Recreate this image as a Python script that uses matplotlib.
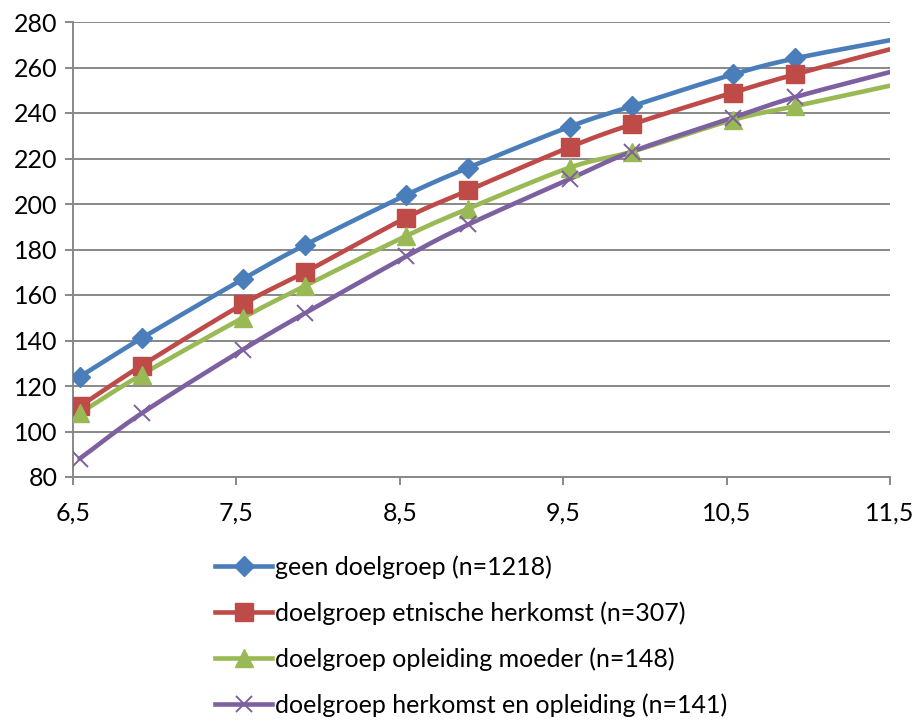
import numpy as np
import matplotlib.pyplot as plt
from matplotlib.ticker import FuncFormatter

# leeftijd (jaren) en waarden per groep
leeftijd = [6.54, 6.92, 7.54, 7.92, 8.54, 8.92, 9.54, 9.92, 10.54, 10.92, 11.5]

geen_doelgroep = [124, 141, 167, 182, 204, 216, 234, 243, 257, 264, 272]
etnische_herkomst = [111, 129, 156, 170, 194, 206, 225, 235, 249, 257, 268]
opleiding_moeder = [108, 125, 150, 164, 186, 198, 216, 223, 237, 243, 252]
herkomst_opleiding = [88, 108, 136, 152, 177, 191, 211, 223, 238, 247, 258]

labels = ["geen doelgroep (n=1218)",
          "doelgroep etnische herkomst (n=307)",
          "doelgroep opleiding moeder (n=148)",
          "doelgroep herkomst en opleiding (n=141)"]
kleuren = ["#4A7EBB", "#BE4B48", "#98B954", "#7D60A0"]
markers = ["D", "s", "^", "x"]
marker_sizes = [10.5, 13, 13, 12]

x_ticks = [6.5, 7.5, 8.5, 9.5, 10.5, 11.5]
y_ticks = list(range(80, 281, 20))

plt.rcParams['font.family'] = ['Lato', 'DejaVu Sans']


def smooth(xs, ys, n=20):
    # Catmull-Rom zoals de "vloeiende lijn" in Excel
    xs = np.asarray(xs, float)
    ys = np.asarray(ys, float)
    px = np.concatenate([[2 * xs[0] - xs[1]], xs, [2 * xs[-1] - xs[-2]]])
    py = np.concatenate([[2 * ys[0] - ys[1]], ys, [2 * ys[-1] - ys[-2]]])
    ox, oy = [], []
    t = np.linspace(0, 1, n, endpoint=False)
    for i in range(1, len(px) - 2):
        for p, out in ((px, ox), (py, oy)):
            p0, p1, p2, p3 = p[i - 1], p[i], p[i + 1], p[i + 2]
            out.extend(0.5 * (2 * p1 + (-p0 + p2) * t
                              + (2 * p0 - 5 * p1 + 4 * p2 - p3) * t ** 2
                              + (-p0 + 3 * p1 - 3 * p2 + p3) * t ** 3))
    ox.append(xs[-1])
    oy.append(ys[-1])
    return ox, oy


fig = plt.figure(figsize=(9.16, 7.24), dpi=100)
ax = fig.add_axes([73 / 916, 1 - 477 / 724, (890 - 73) / 916, (477 - 22) / 724])

reeksen = [geen_doelgroep, etnische_herkomst, opleiding_moeder, herkomst_opleiding]
handles = []
for waarden, kleur, m, ms, lab in zip(reeksen, kleuren, markers, marker_sizes, labels):
    sx, sy = smooth(leeftijd, waarden)
    ax.plot(sx, sy, color=kleur, lw=3.3, solid_capstyle='round', zorder=3)
    mew = 1.4 if m == "x" else 1
    ax.plot(leeftijd[:-1], waarden[:-1], linestyle='none', marker=m, ms=ms,
            color=kleur, mec=kleur, mew=mew, zorder=4)
    h, = ax.plot([], [], color=kleur, lw=3.3, marker=m, ms=ms, mec=kleur, mew=mew)
    handles.append(h)

ax.set_xlim(6.5, 11.5)
ax.set_ylim(80, 280)
ax.set_xticks(x_ticks)
ax.set_yticks(y_ticks)
ax.xaxis.set_major_formatter(FuncFormatter(lambda v, p: f"{v:.1f}".replace(".", ",")))
ax.grid(axis='y', color='#888888', lw=1.4)
ax.set_axisbelow(True)
for s in ['top', 'right']:
    ax.spines[s].set_visible(False)
for s in ['left', 'bottom']:
    ax.spines[s].set_color('#888888')
    ax.spines[s].set_linewidth(1.4)
ax.tick_params(axis='both', colors='#888888', labelcolor='black', labelsize=18,
               length=6, width=1.4)
ax.tick_params(axis='x', pad=12)
ax.tick_params(axis='y', pad=5)

fig.legend(handles, labels, loc='upper left', bbox_to_anchor=(215 / 916, 1 - 555 / 724),
           frameon=False, fontsize=18, handlelength=2.28, handletextpad=0.12,
           labelspacing=0.9, borderpad=0, borderaxespad=0)

fig.savefig("out.png", dpi=100)
